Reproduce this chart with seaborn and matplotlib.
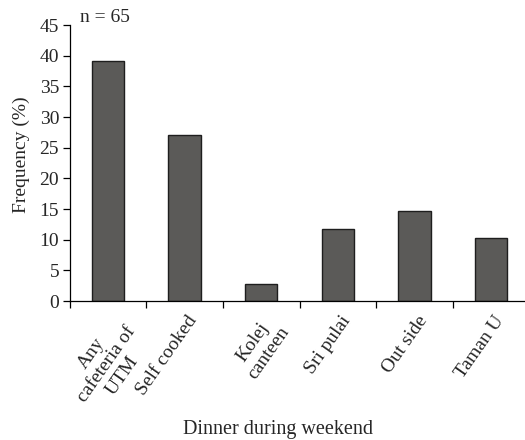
import matplotlib
matplotlib.use("Agg")
import matplotlib.pyplot as plt
import matplotlib.transforms as mtransforms
from matplotlib.ticker import FixedLocator
import seaborn as sns
import pandas as pd

# Where students eat dinner at the weekend (n = 65)
places = ["Any\ncafeteria of\nUTM", "Self cooked", "Kolej\ncanteen",
          "Sri pulai", "Out side", "Taman U"]
frequency = [39.2, 27.1, 2.8, 11.7, 14.6, 10.2]
y_ticks = [0, 5, 10, 15, 20, 25, 30, 35, 40, 45]

sns.set_theme(style="ticks")
plt.rcParams["font.family"] = ["Liberation Serif", "DejaVu Serif"]
plt.rcParams["font.size"] = 14

df = pd.DataFrame({"place": places, "freq": frequency})

fig = plt.figure(figsize=(5.25, 4.4), dpi=100)
ax = fig.add_axes([69.5 / 525, 139 / 440, (525 - 69.5) / 525, 276 / 440])

sns.barplot(data=df, x="place", y="freq", color="#5b5a58", saturation=1,
            width=0.42, edgecolor="#1e1e1e", linewidth=1.0, ax=ax)

ax.set_xlim(-0.5, 5.44)
ax.set_ylim(0, 45)
ax.set_yticks(y_ticks)
ax.set_yticklabels([str(v) for v in y_ticks])

# category separators as minor ticks, labels on the (invisible) major ticks
ax.xaxis.set_minor_locator(FixedLocator([i - 0.5 for i in range(len(places))]))
ax.tick_params(axis="x", which="major", length=0, pad=8.5, labelsize=14)
ax.tick_params(axis="x", which="minor", length=5, width=0.9, color="black",
               direction="out")
ax.tick_params(axis="y", length=5, width=0.9, color="black", pad=2.5,
               labelsize=14, direction="out")

shift = mtransforms.ScaledTranslation(2 / 100, 0, fig.dpi_scale_trans)
for lbl in ax.get_xticklabels():
    lbl.set_rotation(55)
    lbl.set_ha("right")
    lbl.set_va("top")
    lbl.set_rotation_mode("anchor")
    lbl.set_multialignment("center")
    lbl.set_linespacing(1.15)
    lbl.set_transform(lbl.get_transform() + shift)

for side in ("top", "right"):
    ax.spines[side].set_visible(False)
for side in ("left", "bottom"):
    ax.spines[side].set_linewidth(0.9)
    ax.spines[side].set_color("black")

ax.set_ylabel("Frequency (%)", fontsize=14)
ax.yaxis.set_label_coords(-0.086, 0.529)
ax.set_xlabel("Dinner during weekend", fontsize=14.5)
ax.xaxis.set_label_coords(0.458, -0.431)

fig.text(80 / 525, 1 - 22 / 440, "n = 65", fontsize=14, va="baseline")

fig.savefig("out.png", dpi=100)
